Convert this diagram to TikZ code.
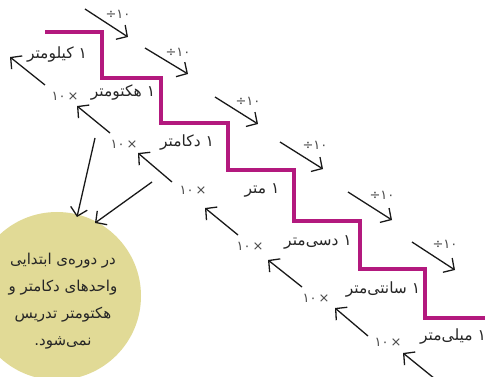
\documentclass[tikz,border=0pt]{standalone}
\usepackage{fontspec}
\newfontfamily\arabicfont[Script=Arabic]{DejaVu Sans}
\TeXXeTstate=1
\usetikzlibrary{arrows.meta}
\definecolor{stairmag}{HTML}{B3197E}
\definecolor{notefill}{HTML}{E1DA96}
\definecolor{txt}{HTML}{262626}
\definecolor{optxt}{HTML}{4A4A4A}
\newcommand{\divten}{\hbox{÷}\hbox{۱۰}}
\newcommand{\multen}{\hbox{۱۰}\hspace{2pt}\hbox{×}}
\begin{document}
\begin{tikzpicture}[x=1pt,y=-1pt,
  stair/.style={draw=stairmag, line width=3.6pt, line join=miter},
  arr/.style={draw=black!90, line width=1.3pt, -{Straight Barb[length=8pt,width=17pt,line width=1.3pt]}},
  unit/.style={font=\arabicfont\fontsize{15.5}{18}\selectfont, text=txt, inner sep=1pt},
  op/.style={font=\arabicfont\fontsize{13}{15}\selectfont, text=optxt, inner sep=1pt},
  notetext/.style={font=\arabicfont\fontsize{15}{27}\selectfont, text=txt, align=center, inner sep=0pt},
  blob/.style={circle, fill=notefill, minimum size=168pt, inner sep=0pt}
]
\useasboundingbox (0,0) rectangle (485,377);
\clip (0,0) rectangle (485,377);

% staircase
\draw[stair] (45,32) -- (102,32) -- (102,78) -- (161,78) -- (161,123) -- (228,123)
  -- (228,170) -- (294,170) -- (294,221) -- (360,221) -- (360,269) -- (425,269)
  -- (425,318) -- (490,318);

% note circle
\node[blob] (circ) at (57,296) {};
\node[notetext] (note) at (63,301) {\beginR در دوره^^^^200cی ابتدایی\endR\\\beginR واحدهای دکامتر و\endR\\\beginR هکتومتر تدریس\endR\\\beginR نمی^^^^200cشود.\endR};

% unit labels
\node[unit] (km) at (57,55) {\beginR ۱ کیلومتر\endR};
\node[unit] (hm) at (123,93) {\beginR ۱ هکتومتر\endR};
\node[unit] (dam) at (187,143) {\beginR ۱ دکامتر\endR};
\node[unit] (m) at (262,190) {\beginR ۱ متر\endR};
\node[unit] (dm) at (318,242) {\beginR ۱ دسی^^^^200cمتر\endR};
\node[unit] (cm) at (383,290) {\beginR ۱ سانتی^^^^200cمتر\endR};
\node[unit] (mm) at (453,337) {\beginR ۱ میلی^^^^200cمتر\endR};

% divide labels
\node[op] (d1l) at (118,14) {\divten};
\node[op] (d2l) at (178,52) {\divten};
\node[op] (d3l) at (248,101) {\divten};
\node[op] (d4l) at (315,145) {\divten};
\node[op] (d5l) at (382,195) {\divten};
\node[op] (d6l) at (445,244) {\divten};

% multiply labels
\node[op] (u1l) at (65,96) {\multen};
\node[op] (u2l) at (124,144) {\multen};
\node[op] (u3l) at (193,190) {\multen};
\node[op] (u4l) at (250,246) {\multen};
\node[op] (u5l) at (316,298) {\multen};
\node[op] (u6l) at (388,342) {\multen};

% arrow end points
\coordinate (d1a) at (85,9);   \coordinate (d1b) at (128,37);
\coordinate (d2a) at (145,48); \coordinate (d2b) at (188,74);
\coordinate (d3a) at (215,97); \coordinate (d3b) at (258,124);
\coordinate (d4a) at (280,142);\coordinate (d4b) at (323,169);
\coordinate (d5a) at (348,192);\coordinate (d5b) at (392,220);
\coordinate (d6a) at (412,242);\coordinate (d6b) at (455,270);

\coordinate (u1a) at (45,85);  \coordinate (u1b) at (10,57);
\coordinate (u2a) at (110,133);\coordinate (u2b) at (77,106);
\coordinate (u3a) at (172,182);\coordinate (u3b) at (138,153);
\coordinate (u4a) at (238,235);\coordinate (u4b) at (205,208);
\coordinate (u5a) at (302,287);\coordinate (u5b) at (268,260);
\coordinate (u6a) at (368,336);\coordinate (u6b) at (335,308);
\coordinate (u7a) at (440,383);\coordinate (u7b) at (403,353);

\coordinate (c1a) at (95,138); \coordinate (c1b) at (77,217);
\coordinate (c2a) at (152,182);\coordinate (c2b) at (95,223);

\foreach \n in {d1,d2,d3,d4,d5,d6,u1,u2,u3,u4,u5,u6,u7,c1,c2}
  \draw[arr] (\n a) -- (\n b);
\end{tikzpicture}
\end{document}
